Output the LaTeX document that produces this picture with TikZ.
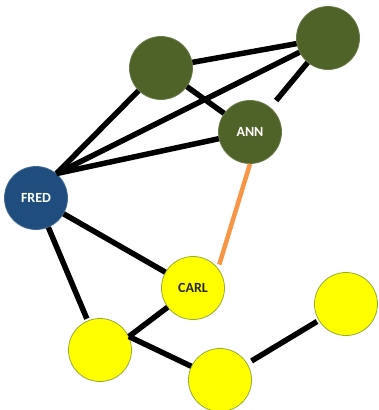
\documentclass[tikz,border=0pt]{standalone}
\usepackage{fontspec}
\setmainfont{Carlito}
\definecolor{olivenode}{RGB}{79,98,40}
\definecolor{bluenode}{RGB}{31,78,126}
\definecolor{yellownode}{RGB}{255,255,0}
\definecolor{yellowrim}{RGB}{150,170,60}
\definecolor{orangeedge}{RGB}{247,150,70}
\begin{document}
\begin{tikzpicture}[x=1pt,y=-1pt,
  person/.style={circle,minimum size=63pt,inner sep=0pt,font=\fontsize{14}{14}\selectfont\bfseries},
  greennode/.style={person,fill=olivenode,draw=olivenode!85!white,line width=0.8pt,text=white},
  bluenodestyle/.style={person,fill=bluenode,draw=bluenode!85!white,line width=0.8pt,text=white},
  yellownodestyle/.style={person,fill=yellownode,draw=yellowrim,line width=0.8pt,text=black!85},
  link/.style={line width=5.5pt,black},
  orangelink/.style={line width=4.5pt,orangeedge}]
\useasboundingbox (0,0) rectangle (378,410);
\node[greennode] (tl) at (161,68) {};
\node[greennode] (tr) at (328,38) {};
\node[greennode] (ann) at (250,132) {ANN};
\node[bluenodestyle] (fred) at (36,198) {FRED};
\node[yellownodestyle] (carl) at (193,288) {CARL};
\node[yellownodestyle] (bl) at (100,350) {};
\node[yellownodestyle] (bm) at (220,380) {};
\node[yellownodestyle] (r) at (346,304) {};
\draw[link] (tl) -- (tr);
\draw[link] (tl) -- (ann);
\draw[link] (fred.50) -- (tl);
\draw[link] (fred.50) -- (tr);
\draw[link] (fred.50) -- (ann);
\draw[link,shorten >=9pt] (tr) -- (ann);
\draw[orangelink,shorten >=4pt] (ann.south) -- (carl.38);
\draw[link] (fred) -- (carl);
\draw[link,shorten >=2pt] (fred) -- (bl);
\draw[link] (bl.25) -- (carl);
\draw[link] (bl.25) -- (bm);
\draw[link,shorten <=5pt,shorten >=2pt] (bm) -- (r);
\end{tikzpicture}
\end{document}
